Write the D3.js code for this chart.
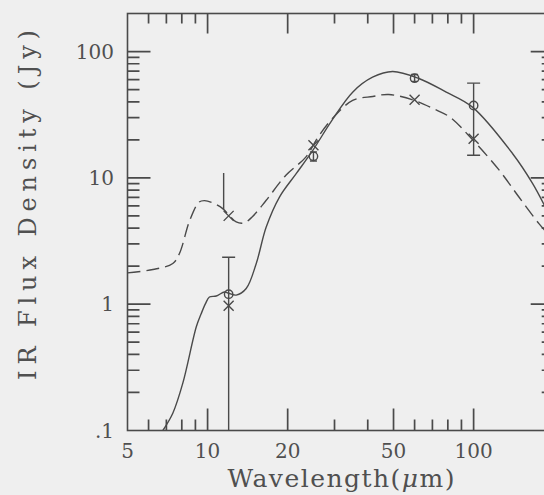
<!DOCTYPE html>
<html>
<head>
<meta charset="utf-8">
<script src="https://cdn.jsdelivr.net/npm/d3@7"></script>
<style>
  html, body { margin: 0; padding: 0; background: #efefef; }
  svg { display: block; }
  text { font-family: "DejaVu Serif", "Liberation Serif", serif; fill: #505050; }
</style>
</head>
<body>
<svg id="chart"></svg>
<script>
// model curve 1 (solid)
var solidWl   = [6.79, 7.40, 8.07, 9.07, 9.46, 9.82, 10.16, 10.78, 11.58, 12.0, 12.81, 13.97, 15.24, 16.61, 18.63, 21.53, 24.86, 29.17, 35.1, 41.7, 49.6, 62.6, 78.9, 99.0, 140, 166.5, 185];
var solidFlux = [0.1, 0.137, 0.237, 0.662, 0.84, 1.01, 1.14, 1.16, 1.25, 1.22, 1.18, 1.33, 2.10, 4.08, 7.05, 10.8, 16.5, 28.0, 47.7, 62.6, 69.5, 60.9, 47.7, 36.3, 15.6, 9.05, 6.0];

// model curve 2 (dashed)
var dashWl   = [5, 6.23, 7.40, 7.84, 8.57, 9.30, 9.74, 10.47, 11.4, 12.0, 12.81, 13.73, 14.7, 16.61, 19.7, 23.4, 26.0, 29.4, 35.1, 41.8, 48.0, 60.0, 70.8, 81.5, 99.6, 124.8, 148, 176, 185];
var dashFlux = [1.77, 1.88, 2.10, 2.52, 4.61, 6.44, 6.6, 6.32, 5.71, 5.1, 4.48, 4.40, 4.9, 6.64, 10.5, 14.6, 21.0, 29.4, 41.0, 44.1, 45.7, 41.0, 35.2, 30.2, 19.8, 11.5, 7.05, 4.34, 3.85];

// observed points (circles) with error bars; null low = down to the axis
var circWl   = [12, 25, 60, 100];
var circFlux = [1.2, 14.8, 61.5, 37.4];
var circLo   = [null, 13.6, 58, 15.1];
var circHi   = [2.35, 16.0, 65.8, 56.2];

// second set of points (crosses)
var crossWl   = [12, 12, 25, 60, 100];
var crossFlux = [5.0, 0.97, 18.1, 41.5, 20.4];
var crossHi   = [10.9, null, null, null, null];

// axes
var xTickVals  = [5, 10, 20, 50, 100];
var xTickText  = ["5", "10", "20", "50", "100"];
var xMinor     = [6, 7, 8, 9, 30, 40, 60, 70, 80, 90];
var xMajor     = [10, 20, 50, 100];
var yTickVals  = [0.1, 1, 10, 100];
var yTickText  = [".1", "1", "10", "100"];
var yMajor     = [1, 10, 100];
var yMinor     = [0.2, 0.3, 0.4, 0.5, 0.6, 0.7, 0.8, 0.9, 2, 3, 4, 5, 6, 7, 8, 9, 20, 30, 40, 50, 60, 70, 80, 90];

var width = 544, height = 495;
var mLeft = 127.5, mRight = 553.7, mTop = 13.5, mBottom = 430.5;
var ink = "#4a4a4a";

var svg = d3.select("#chart").attr("width", width).attr("height", height);

var x = d3.scaleLog().domain([5, 200]).range([mLeft, mRight]);
var y = d3.scaleLog().domain([0.1, 200]).range([mBottom, mTop]);

svg.append("defs").append("clipPath").attr("id", "plotclip")
  .append("rect").attr("x", mLeft).attr("y", mTop)
  .attr("width", mRight - mLeft).attr("height", mBottom - mTop);

// frame
svg.append("rect")
    .attr("x", mLeft).attr("y", mTop)
    .attr("width", mRight - mLeft).attr("height", mBottom - mTop)
    .attr("fill", "none").attr("stroke", ink).attr("stroke-width", 1.6);

// inward ticks on all four sides, one path
var tickD = [];
xMajor.forEach(function(v) {
  tickD.push("M" + x(v) + "," + mBottom + "v" + (-22));
  tickD.push("M" + x(v) + "," + mTop + "v" + 20);
});
xMinor.forEach(function(v) {
  tickD.push("M" + x(v) + "," + mBottom + "v" + (-11));
  tickD.push("M" + x(v) + "," + mTop + "v" + 10);
});
yMajor.forEach(function(v) {
  tickD.push("M" + mLeft + "," + y(v) + "h" + 23);
  tickD.push("M" + mRight + "," + y(v) + "h" + (-23));
});
yMinor.forEach(function(v) {
  tickD.push("M" + mLeft + "," + y(v) + "h" + 12);
  tickD.push("M" + mRight + "," + y(v) + "h" + (-12));
});
svg.append("path")
    .attr("d", tickD.join(""))
    .attr("fill", "none")
    .attr("stroke", ink)
    .attr("stroke-width", 1.7);

// tick labels
svg.append("g").selectAll("text")
  .data(xTickVals)
  .join("text")
    .attr("x", function(d) { return x(d); })
    .attr("y", 458)
    .attr("text-anchor", "middle")
    .attr("font-size", 20)
    .text(function(d, i) { return xTickText[i]; });

svg.append("g").selectAll("text")
  .data(yTickVals)
  .join("text")
    .attr("x", 114)
    .attr("y", function(d) { return y(d); })
    .attr("dy", "0.36em")
    .attr("text-anchor", "end")
    .attr("font-size", 20)
    .text(function(d, i) { return yTickText[i]; });

// axis titles
var xt = svg.append("text")
    .attr("x", 341).attr("y", 486.5)
    .attr("text-anchor", "middle")
    .attr("font-size", 25)
    .attr("textLength", 227).attr("lengthAdjust", "spacing");
xt.append("tspan").text("Wavelength(");
xt.append("tspan").attr("font-style", "italic").text("\u03bc");
xt.append("tspan").text("m)");

svg.append("text")
    .attr("transform", "translate(36,205) rotate(-90)")
    .attr("text-anchor", "middle")
    .attr("font-size", 24)
    .attr("textLength", 350).attr("lengthAdjust", "spacing")
    .text("IR Flux Density (Jy)");

// curves
var plot = svg.append("g").attr("clip-path", "url(#plotclip)");

var line = d3.line()
    .x(function(d) { return x(d[0]); })
    .y(function(d) { return y(d[1]); })
    .curve(d3.curveCatmullRom.alpha(0.5));

plot.append("path")
    .datum(d3.zip(solidWl, solidFlux))
    .attr("d", line)
    .attr("fill", "none").attr("stroke", ink).attr("stroke-width", 1.4);

plot.append("path")
    .datum(d3.zip(dashWl, dashFlux))
    .attr("d", line)
    .attr("fill", "none").attr("stroke", ink).attr("stroke-width", 1.4)
    .attr("stroke-dasharray", "13,6");

// error bars for circles
var circ = circWl.map(function(w, i) {
  return {wl: w, f: circFlux[i], lo: circLo[i], hi: circHi[i]};
});
var eb = plot.append("g").attr("stroke", ink).attr("stroke-width", 1.4).attr("fill", "none");
circ.forEach(function(d) {
  var cx = x(d.wl);
  var yLo = d.lo === null ? mBottom : y(d.lo);
  var yHi = y(d.hi);
  var cap = (yLo - yHi) > 15 ? 6.5 : 3.5;
  eb.append("line").attr("x1", cx).attr("x2", cx).attr("y1", yHi).attr("y2", yLo);
  eb.append("line").attr("x1", cx - cap).attr("x2", cx + cap).attr("y1", yHi).attr("y2", yHi);
  if (d.lo !== null) {
    eb.append("line").attr("x1", cx - cap).attr("x2", cx + cap).attr("y1", yLo).attr("y2", yLo);
  }
  eb.append("circle").attr("cx", cx).attr("cy", y(d.f)).attr("r", 4.2);
});

// crosses
crossWl.forEach(function(w, i) {
  var cx = x(w), cy = y(crossFlux[i]), s = 5;
  eb.append("path")
    .attr("d", "M" + (cx - s) + "," + (cy - s) + "L" + (cx + s) + "," + (cy + s) +
               "M" + (cx - s) + "," + (cy + s) + "L" + (cx + s) + "," + (cy - s));
  if (crossHi[i] !== null) {
    eb.append("line").attr("x1", cx - 5).attr("x2", cx - 5)
      .attr("y1", y(crossHi[i])).attr("y2", cy - 7);
  }
});
</script>
</body>
</html>
